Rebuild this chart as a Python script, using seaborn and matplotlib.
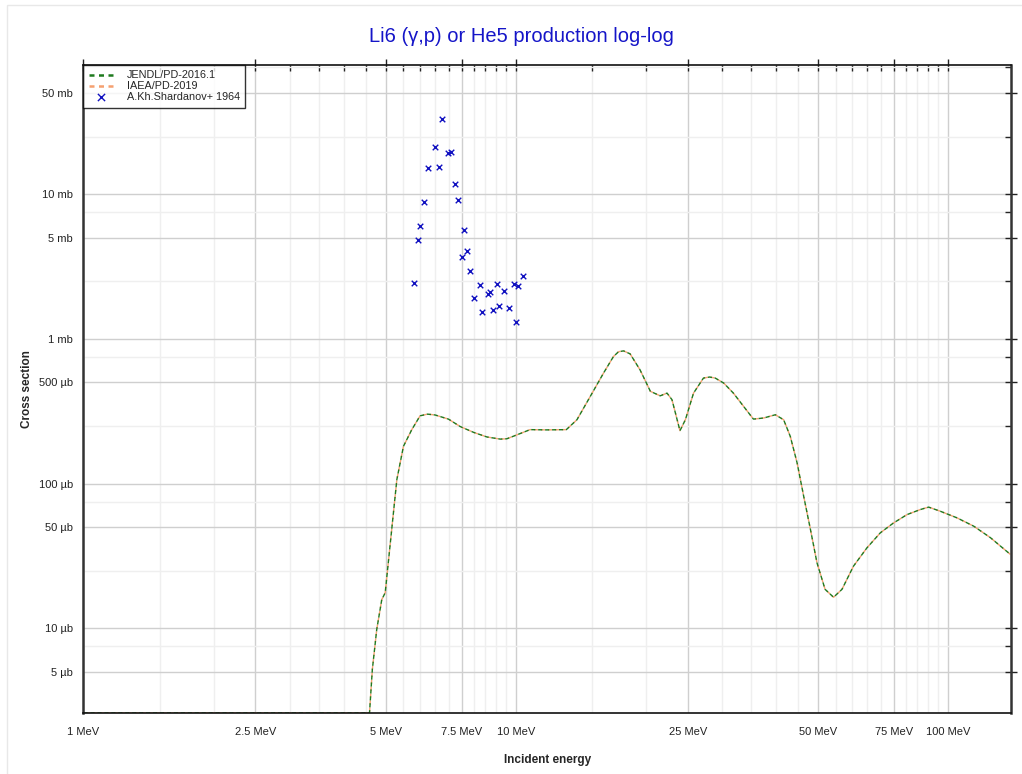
import pandas as pd
import matplotlib
matplotlib.use("Agg")
import matplotlib.pyplot as plt
import matplotlib.patches as mpatches
from matplotlib.ticker import FixedLocator, FixedFormatter, NullFormatter
import seaborn as sns

# evaluated curves (energy in MeV, cross section in mb)
curve_energy = [1.0, 4.59, 4.66, 4.77, 4.90, 4.99, 5.31, 5.50, 5.75, 6.01, 6.25, 6.51,
                6.99, 7.44, 7.99, 8.58, 9.21, 9.54, 10.06, 10.8, 11.8, 13.1, 13.86,
                14.88, 15.97, 16.84, 17.3, 17.77, 18.4, 19.4, 20.5, 21.6, 22.4, 23.0,
                24.0, 24.7, 25.8, 27.2, 28.1, 28.96, 30.3, 31.9, 33.7, 35.5, 37.5,
                39.9, 41.7, 43.2, 44.8, 46.4, 48.1, 49.8, 52.0, 54.4, 56.9, 60.5, 65.0,
                69.8, 74.9, 80.5, 86.4, 90.3, 96.1, 105.0, 114.8, 125.5, 139.6]
jendl_mb = [0.0026, 0.0026, 0.0052, 0.0098, 0.0158, 0.0176, 0.1066, 0.181, 0.236,
            0.294, 0.302, 0.298, 0.279, 0.248, 0.226, 0.210, 0.203, 0.204, 0.217,
            0.236, 0.235, 0.236, 0.276, 0.40, 0.580, 0.755, 0.815, 0.826, 0.788,
            0.611, 0.434, 0.404, 0.422, 0.38, 0.232, 0.276, 0.422, 0.536, 0.545,
            0.536, 0.495, 0.422, 0.341, 0.279, 0.284, 0.299, 0.276, 0.212, 0.139,
            0.0817, 0.0482, 0.0284, 0.0186, 0.0164, 0.0186, 0.0269, 0.0360, 0.0457,
            0.0535, 0.0611, 0.0662, 0.0688, 0.0644, 0.058, 0.0508, 0.0423, 0.0324]
# IAEA/PD-2019 coincides with JENDL on this plot
iaea_mb = list(jendl_mb)

# experimental points, A.Kh.Shardanov+ 1964
exp_energy = [6.75, 6.49, 6.98, 7.10, 6.26, 6.63, 7.25, 6.15, 7.37, 6.01, 7.60, 5.93,
              7.73, 7.51, 7.86, 10.39, 5.83, 8.25, 9.03, 9.90, 10.13, 8.70, 8.61,
              9.41, 7.99, 9.17, 8.87, 9.66, 8.38, 10.01]
exp_mb = [33.3, 21.3, 19.2, 19.4, 15.2, 15.3, 11.7, 8.77, 9.05, 5.99, 5.65, 4.82,
          4.03, 3.68, 2.96, 2.73, 2.42, 2.37, 2.41, 2.38, 2.31, 2.12, 2.03, 2.13,
          1.91, 1.69, 1.585, 1.63, 1.53, 1.30]

x_major = [1, 2.5, 5, 7.5, 10, 25, 50, 75, 100]
x_labels = ["1 MeV", "2.5 MeV", "5 MeV", "7.5 MeV", "10 MeV", "25 MeV", "50 MeV",
            "75 MeV", "100 MeV"]
x_minor = [1.5, 2, 3, 3.5, 4, 4.5, 5.5, 6, 6.5, 7, 8, 8.5, 9, 9.5,
           15, 20, 30, 35, 40, 45, 55, 60, 65, 70, 80, 85, 90, 95]
y_major = [0.005, 0.01, 0.05, 0.1, 0.5, 1, 5, 10, 50]
y_labels = ["5 µb", "10 µb", "50 µb", "100 µb", "500 µb", "1 mb", "5 mb", "10 mb",
            "50 mb"]
y_minor = [0.0075, 0.025, 0.075, 0.25, 0.75, 2.5, 7.5, 25, 75]

curves = pd.DataFrame({"energy": curve_energy, "jendl": jendl_mb, "iaea": iaea_mb})
points = pd.DataFrame({"energy": exp_energy, "xs": exp_mb})

sns.set_style("white")
plt.rcParams["font.family"] = ["Liberation Sans", "DejaVu Sans"]

fig = plt.figure(figsize=(10.22, 7.74), dpi=100)
ax = fig.add_axes([0.0817, 0.0788, 0.9075, 0.8372])

# faint outer frame
fig.patches.append(mpatches.Rectangle((0.007, -0.01), 1.2, 1.003, transform=fig.transFigure,
                                      fill=False, edgecolor="#e8e8e8", lw=1))

sns.lineplot(data=curves, x="energy", y="iaea", ax=ax, color="#f5a070", lw=1.0,
             label="IAEA/PD-2019", sort=False)
ax.lines[-1].set_linestyle((3, (3, 2)))
sns.lineplot(data=curves, x="energy", y="jendl", ax=ax, color="#1f7a1f", lw=1.0,
             label="JENDL/PD-2016.1", sort=False)
ax.lines[-1].set_linestyle((0, (3, 2)))
sns.scatterplot(data=points, x="energy", y="xs", ax=ax, marker="x", color="#1010c0",
                s=16, linewidth=1.0, label="A.Kh.Shardanov+ 1964", zorder=5)

ax.set_xscale("log")
ax.set_yscale("log")
ax.set_xlim(1, 140)
ax.set_ylim(0.0026, 78)

ax.xaxis.set_major_locator(FixedLocator(x_major))
ax.xaxis.set_major_formatter(FixedFormatter(x_labels))
ax.xaxis.set_minor_locator(FixedLocator(x_minor))
ax.xaxis.set_minor_formatter(NullFormatter())
ax.yaxis.set_major_locator(FixedLocator(y_major))
ax.yaxis.set_major_formatter(FixedFormatter(y_labels))
ax.yaxis.set_minor_locator(FixedLocator(y_minor))
ax.yaxis.set_minor_formatter(NullFormatter())

ax.grid(which="major", color="#cfcfcf", lw=1.0)
ax.grid(which="minor", color="#efefef", lw=1.0)
ax.set_axisbelow(True)

ax.tick_params(which="major", direction="inout", length=8, width=1, labelsize=8,
               top=True, right=True, colors="#222222")
ax.tick_params(which="minor", direction="in", length=4, width=1, top=True, right=True)
ax.tick_params(axis="x", pad=6)
for side in ["left", "right"]:
    ax.spines[side].set_linewidth(1.8)
    ax.spines[side].set_color("#333333")
for side in ["top", "bottom"]:
    ax.spines[side].set_linewidth(1.2)
    ax.spines[side].set_color("#111111")

ax.set_xlabel("Incident energy", fontsize=8.5, fontweight="bold", labelpad=12)
ax.set_ylabel("Cross section", fontsize=8.5, fontweight="bold", labelpad=4)
fig.text(0.51, 0.953, "Li6 (γ,p) or He5 production log-log", ha="center", va="center",
         fontsize=14.5, color="#1515c8")

handles, labels = ax.get_legend_handles_labels()
order = [1, 0, 2]
leg = ax.legend([handles[i] for i in order], [labels[i] for i in order], loc="upper left",
                borderaxespad=0, fontsize=7.8, frameon=True, fancybox=False,
                handlelength=2.2, handletextpad=1.3, borderpad=0.5, labelspacing=0.08,
                markerscale=1.3)
leg.get_frame().set_edgecolor("black")
leg.get_frame().set_linewidth(1.0)
for line in leg.get_lines():
    line.set_linewidth(1.8)
    line.set_linestyle((0, (2, 1.8)))

fig.savefig("out.png", dpi=100)
